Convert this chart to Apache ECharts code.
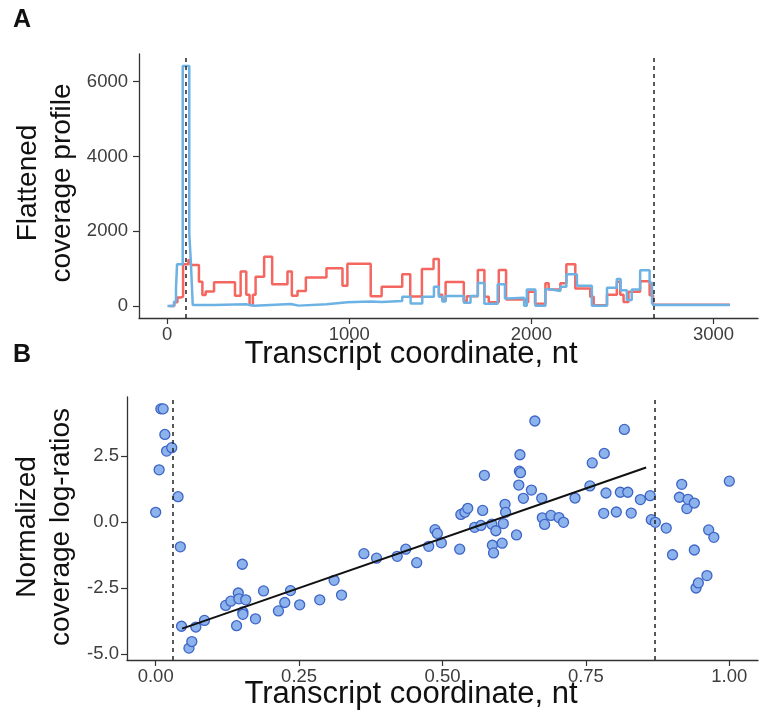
<!DOCTYPE html>
<html>
<head>
<meta charset="utf-8">
<script src="https://cdn.jsdelivr.net/npm/echarts@6/dist/echarts.min.js"></script>
<style>
  html, body { margin: 0; padding: 0; background: #ffffff; }
  #chart { width: 760px; height: 718px; }
</style>
</head>
<body>
<div id="chart"></div>
<script>
// ---- Panel A: flattened coverage profiles (step functions along the transcript) ----
// Each pair: segment start coordinate (nt) and the coverage value held until the next start.
const redStepX = [13, 40, 57, 75, 88, 117, 130, 175, 194, 212, 258, 373, 404, 435, 453, 471, 486, 533, 577, 661, 685, 716, 762, 875, 963, 990, 1118, 1178, 1291, 1335, 1399, 1463, 1492, 1511, 1529, 1629, 1645, 1706, 1742, 1766, 1821, 1861, 1967, 1982, 2020, 2077, 2095, 2159, 2192, 2241, 2323, 2342, 2415, 2469, 2488, 2506, 2533, 2597, 2649, 2668, 3090];
const redStepY = [0, 100, 225, 250, 1115, 1230, 1100, 650, 295, 385, 634, 275, 920, 300, 27, 300, 785, 1320, 581, 920, 275, 400, 760, 1010, 545, 1130, 260, 518, 850, 255, 990, 1255, 300, 150, 640, 130, 260, 964, 250, 100, 964, 175, 98, 384, 60, 607, 440, 607, 1116, 470, 250, 20, 300, 650, 300, 110, 380, 665, 290, 35, 35];

const blueStepX = [2, 38, 49, 55, 86, 122, 131, 141, 258, 433, 478, 680, 723, 875, 990, 1118, 1178, 1291, 1337, 1401, 1465, 1492, 1511, 1529, 1629, 1666, 1706, 1742, 1815, 1855, 1870, 1960, 1975, 2022, 2077, 2104, 2159, 2192, 2250, 2332, 2415, 2469, 2490, 2524, 2551, 2597, 2649, 2662, 2670, 3090];
const blueStepY = [0, 116, 480, 1120, 6420, 1946, 1142, 30, 45, 5, 55, 10, 50, 98, 120, 110, 134, 250, 70, 250, 518, 250, 120, 270, 90, 270, 615, 60, 580, 200, 220, 5, 440, 10, 450, 400, 518, 850, 540, 5, 490, 720, 420, 160, 440, 955, 620, 80, 25, 20];

// CDS boundaries (nt) shown as dashed verticals
const cdsBoundsNt = [100, 2672];

// Tick values for panel A
const aXTicks = [0, 1000, 2000, 3000];
const aYTicks = [0, 2000, 4000, 6000];

// ---- Panel B: normalized coverage log-ratios along relative transcript position ----
const pointX = [0.000, 0.006, 0.009, 0.013, 0.016, 0.019, 0.028, 0.039, 0.043, 0.045,
                0.058, 0.063, 0.070, 0.085, 0.122, 0.131, 0.144, 0.145, 0.151, 0.157,
                0.152, 0.152, 0.141, 0.174, 0.188, 0.214, 0.225, 0.235, 0.251, 0.286,
                0.311, 0.324, 0.363, 0.385, 0.421, 0.436, 0.455, 0.476, 0.487, 0.491,
                0.498, 0.530, 0.532, 0.539, 0.544, 0.556, 0.567, 0.570, 0.573, 0.586,
                0.587, 0.589, 0.593, 0.604, 0.606, 0.609, 0.610, 0.629, 0.633, 0.634,
                0.636, 0.635, 0.641, 0.655, 0.661, 0.673, 0.674, 0.678, 0.689, 0.703,
                0.711, 0.731, 0.757, 0.761, 0.781, 0.782, 0.785, 0.803, 0.810, 0.817,
                0.823, 0.829, 0.845, 0.862, 0.864, 0.871, 0.890, 0.901, 0.913, 0.917,
                0.926, 0.928, 0.939, 0.939, 0.942, 0.946, 0.961, 0.964, 0.973, 1.000];
const pointY = [0.37, 1.98, 4.29, 4.29, 3.32, 2.69, 2.82, 0.96, -0.94, -3.95,
                -4.78, -4.53, -3.98, -3.73, -3.16, -3.00, -2.69, -2.91, -1.60, -2.95,
                -3.41, -3.50, -3.93, -3.67, -2.61, -3.37, -3.05, -2.60, -3.14, -2.95,
                -2.21, -2.77, -1.20, -1.37, -1.30, -1.03, -1.54, -0.92, -0.29, -0.43,
                -0.79, -1.03, 0.29, 0.37, 0.52, -0.20, -0.13, 0.44, 1.77, -0.08,
                -0.88, -1.17, -0.33, -0.80, -0.06, 0.67, 0.37, -0.49, 1.40, 1.93,
                1.87, 2.55, 0.90, 1.21, 3.83, 0.90, 0.16, -0.09, 0.25, 0.17,
                -0.01, 0.91, 1.37, 2.24, 0.33, 2.60, 1.10, 0.38, 1.13, 3.51,
                1.13, 0.34, 0.85, 1.00, 0.09, -0.01, -0.23, -1.24, 0.94, 1.43,
                0.51, 0.86, 0.72, -1.06, -2.50, -2.31, -2.03, -0.30, -0.58, 1.55];

// Linear fit over the CDS region (end points)
const fitX = [0.046, 0.855];
const fitY = [-4.04, 2.07];

// CDS boundaries in relative coordinates
const cdsBoundsRel = [0.032, 0.869];

// Tick values for panel B
const bXTicks = [0, 0.25, 0.5, 0.75, 1];
const bYTicks = [-5, -2.5, 0, 2.5];

// ---------------------------------------------------------------------------
const FONT = 'Liberation Sans, Arial, Helvetica, sans-serif';
const AXIS_COLOR = '#333333';
const LABEL_COLOR = '#3d3d3d';

const zip = (xs, ys) => xs.map((x, i) => [x, ys[i]]);

function axisCommon(ticks, fmt, margin) {
  return {
    type: 'value',
    splitLine: { show: false },
    axisLine: { show: true, onZero: false, lineStyle: { color: AXIS_COLOR, width: 1.3 } },
    axisTick: { show: true, customValues: ticks, length: 6, lineStyle: { color: AXIS_COLOR, width: 1.2 } },
    axisLabel: {
      customValues: ticks, fontSize: 18.5, color: LABEL_COLOR, fontFamily: FONT, margin: margin,
      formatter: fmt
    }
  };
}

function dashedVerticals(values) {
  return {
    silent: true,
    symbol: ['none', 'none'],
    label: { show: false },
    lineStyle: { type: [4, 4], color: '#222222', width: 1.5 },
    data: values.map(v => ({ xAxis: v }))
  };
}

const chart = echarts.init(document.getElementById('chart'), null, { renderer: 'canvas' });

chart.setOption({
  animation: false,
  backgroundColor: '#ffffff',
  grid: [
    { left: 139, top: 54, width: 619, height: 264 },
    { left: 127, top: 397, width: 631, height: 263 }
  ],
  xAxis: [
    Object.assign(axisCommon(aXTicks, v => String(v), 7), { gridIndex: 0, min: -154, max: 3244 }),
    Object.assign(axisCommon(bXTicks, v => v.toFixed(2), 7), { gridIndex: 1, min: -0.05, max: 1.05 })
  ],
  yAxis: [
    Object.assign(axisCommon(aYTicks, v => String(v), 11), { gridIndex: 0, min: -321, max: 6741 }),
    Object.assign(axisCommon(bYTicks, v => v.toFixed(1), 8), { gridIndex: 1, min: -5.23, max: 4.74 })
  ],
  series: [
    {
      name: 'profile 1', type: 'line', xAxisIndex: 0, yAxisIndex: 0,
      data: zip(redStepX, redStepY), step: 'end', showSymbol: false,
      lineStyle: { color: '#F4665F', width: 2.5 },
      z: 2
    },
    {
      name: 'profile 2', type: 'line', xAxisIndex: 0, yAxisIndex: 0,
      data: zip(blueStepX, blueStepY), step: 'end', showSymbol: false,
      lineStyle: { color: '#6CB2E4', width: 2.5 },
      markLine: dashedVerticals(cdsBoundsNt),
      z: 3
    },
    {
      name: 'log-ratios', type: 'scatter', xAxisIndex: 1, yAxisIndex: 1,
      data: zip(pointX, pointY), symbol: 'circle', symbolSize: 10,
      itemStyle: { color: '#8CB3EC', borderColor: '#3E64C6', borderWidth: 1.3, opacity: 1 },
      markLine: dashedVerticals(cdsBoundsRel),
      z: 2
    },
    {
      name: 'fit', type: 'line', xAxisIndex: 1, yAxisIndex: 1,
      data: zip(fitX, fitY), showSymbol: false,
      lineStyle: { color: '#111111', width: 2 },
      z: 4
    }
  ],
  graphic: [
    { type: 'text', left: 13, top: 8, style: { text: 'A', font: 'bold 25px ' + FONT, fill: '#111' } },
    { type: 'text', left: 13, top: 343, style: { text: 'B', font: 'bold 25px ' + FONT, fill: '#111' } },
    { type: 'text', x: 45, y: 183, rotation: Math.PI / 2,
      style: { text: 'Flattened\ncoverage profile', font: '28px ' + FONT, fill: '#111',
               align: 'center', verticalAlign: 'middle', lineHeight: 34 } },
    { type: 'text', x: 44, y: 527, rotation: Math.PI / 2,
      style: { text: 'Normalized\ncoverage log-ratios', font: '28px ' + FONT, fill: '#111',
               align: 'center', verticalAlign: 'middle', lineHeight: 34 } },
    { type: 'text', x: 411, y: 354,
      style: { text: 'Transcript coordinate, nt', font: '31px ' + FONT, fill: '#111',
               align: 'center', verticalAlign: 'middle' } },
    { type: 'text', x: 411, y: 694,
      style: { text: 'Transcript coordinate, nt', font: '31px ' + FONT, fill: '#111',
               align: 'center', verticalAlign: 'middle' } }
  ]
});
</script>
</body>
</html>
